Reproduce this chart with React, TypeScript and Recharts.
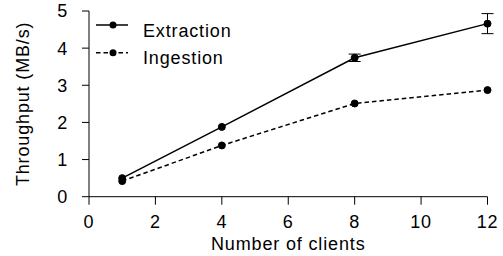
import React from 'react';
import { LineChart, Line, XAxis, YAxis, ErrorBar, Legend, Label } from 'recharts';

const clients = [1, 4, 8, 12];
const extraction = [0.5, 1.88, 3.74, 4.66];
const extractionErr = [0, 0, 0.1, 0.27];
const ingestion = [0.42, 1.38, 2.51, 2.87];
const xTicks = [0, 2, 4, 6, 8, 10, 12];
const yTicks = [0, 1, 2, 3, 4, 5];

const data = clients.map((c, i) => ({
  clients: c,
  extraction: extraction[i],
  err: extractionErr[i],
  ingestion: ingestion[i],
}));

const FONT = '"Liberation Sans", Arial, Helvetica, sans-serif';
const FS = 18;
const LS = 0.85;

const renderLegend = (props: any) => {
  const payload = props.payload || [];
  return (
    <svg width={260} height={80} style={{ display: 'block' }}>
      {payload.map((entry: any, i: number) => {
        const y = 17 + i * 27.7;
        const dash = entry.payload?.strokeDasharray;
        return (
          <g key={i}>
            <line x1={6} x2={38} y1={y} y2={y} stroke="#000" strokeWidth={1.5} strokeDasharray={dash} />
            <circle cx={23} cy={y} r={3.5} fill="#000" />
            <text x={53} y={y + 11.6} fontSize={FS} letterSpacing={LS} fontFamily={FONT} fill="#000">
              {entry.value}
            </text>
          </g>
        );
      })}
    </svg>
  );
};

export default function App() {
  return (
    <div style={{ position: 'absolute', left: 0, top: 0 }}>
      <LineChart
        width={503}
        height={256}
        data={data}
        margin={{ top: 11, right: 15.5, bottom: 7.3, left: 0 }}
        style={{ fontFamily: FONT }}
      >
        <XAxis
          dataKey="clients"
          type="number"
          domain={[0, 12]}
          ticks={xTicks}
          height={52}
          tickSize={8}
          tickMargin={11}
          stroke="#000"
          tick={{ fill: '#000', fontSize: FS, letterSpacing: LS, fontFamily: FONT }}
          interval={0}
        >
          <Label value="Number of clients" position="center" dy={20.5} fill="#000" fontSize={FS} letterSpacing={LS} fontFamily={FONT} />
        </XAxis>
        <YAxis
          type="number"
          domain={[0, 5]}
          ticks={yTicks}
          width={89}
          tickSize={7}
          tickMargin={14}
          stroke="#000"
          tick={{ fill: '#000', fontSize: FS, letterSpacing: LS, fontFamily: FONT }}
          interval={0}
        >
          <Label value="Throughput (MB/s)" position="center" angle={-90} dx={-21.5} fill="#000" fontSize={FS} letterSpacing={LS} fontFamily={FONT} />
        </YAxis>
        <Legend
          layout="vertical"
          align="center"
          verticalAlign="middle"
          content={renderLegend}
          wrapperStyle={{ position: 'absolute', left: 90, top: 8, width: 260, height: 80 }}
        />
        <Line
          name="Extraction"
          dataKey="extraction"
          stroke="#000"
          strokeWidth={1.5}
          dot={{ r: 3.5, fill: '#000', stroke: '#000', strokeWidth: 1 }}
          activeDot={false}
          isAnimationActive={false}
        >
          <ErrorBar dataKey="err" width={6} stroke="#000" strokeWidth={1} direction="y" />
        </Line>
        <Line
          name="Ingestion"
          dataKey="ingestion"
          stroke="#000"
          strokeWidth={1.5}
          strokeDasharray="4.5 3"
          dot={{ r: 3.5, fill: '#000', stroke: '#000', strokeWidth: 1, strokeDasharray: '' }}
          activeDot={false}
          isAnimationActive={false}
        />
      </LineChart>
    </div>
  );
}
